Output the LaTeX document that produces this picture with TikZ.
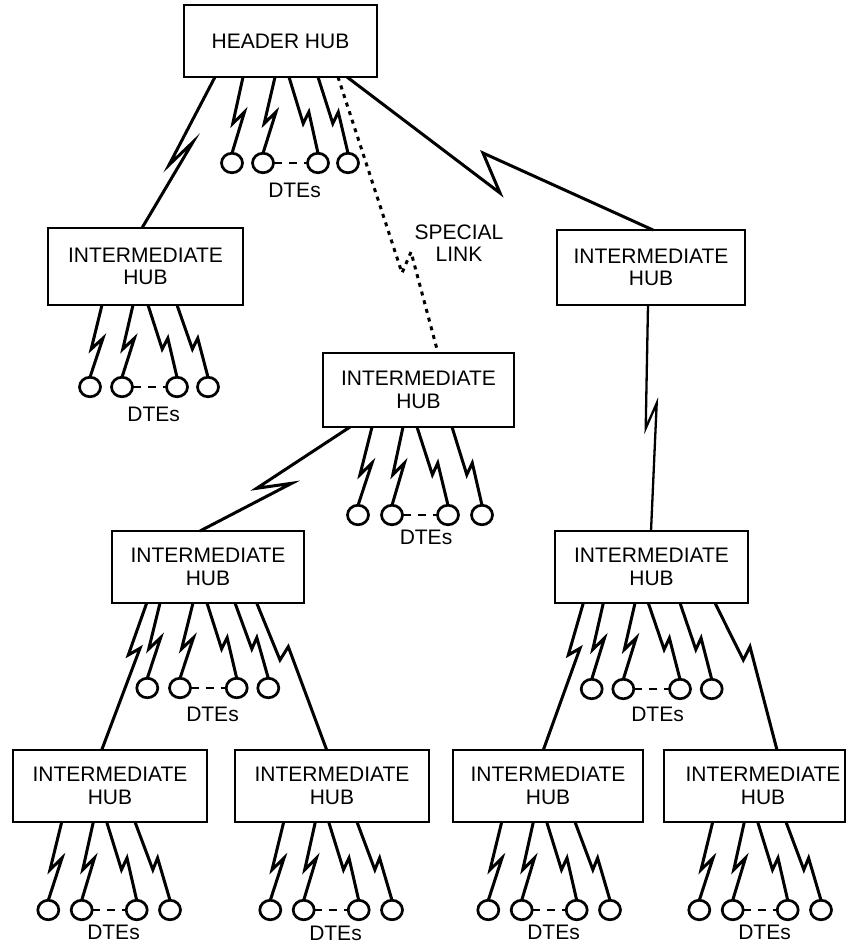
\documentclass[tikz,border=0pt]{standalone}
\usepackage{fontspec}
\setmainfont{Liberation Sans}
\usetikzlibrary{calc,shapes.geometric}
\tikzset{
  hubbox/.style={draw, line width=2.9pt, inner sep=0pt, outer sep=0pt, align=center, font=\fontsize{21}{22.5}\selectfont},
  dte/.style={draw, ellipse, line width=2.7pt, minimum width=21pt, minimum height=19.5pt, inner sep=0pt, outer sep=0pt},
  link/.style={line width=3pt},
  thinlink/.style={line width=2.3pt},
  special/.style={line width=3pt, dash pattern=on 4pt off 5pt},
  dtedash/.style={line width=2.7pt, dash pattern=on 8pt off 7pt},
  lbl/.style={font=\fontsize{21}{22.5}\selectfont, inner sep=0pt, align=center},
}
\newcommand{\grp}[6]{%
  \foreach \c [count=\i] in {#4} {\node[dte] (#2\i) at ($(#1.south west)+(\c,#5)$) {};}
  \foreach \s [count=\i] in {#3} {%
    \coordinate (#2s\i) at ($(#1.south west)+(\s,0)$);
    \draw[link] (#2s\i) -- ($(#2s\i)!0.61!(#2\i.north)+(-3.5,0)$) -- ($(#2s\i)!0.46!(#2\i.north)+(6.5,0)$) -- (#2\i.north);
  }
  \draw[dtedash] (#22.east) -- (#23.west);
  \node[lbl] (#2lab) at ($(#1.south west)+#6$) {DTEs};
}
\begin{document}
\begin{tikzpicture}[x=1pt,y=-1pt]
\useasboundingbox (0,0) rectangle (846,944);
% hubs
\node[hubbox, minimum width=193pt, minimum height=72pt] (hdr) at (280.5,41) {HEADER HUB};
\node[hubbox, minimum width=195pt, minimum height=77pt] (iA) at (145.5,266.5) {INTERMEDIATE\\HUB};
\node[hubbox, minimum width=188pt, minimum height=75pt] (iB) at (651,267.5) {INTERMEDIATE\\HUB};
\node[hubbox, minimum width=191pt, minimum height=74pt] (iC) at (418.5,390) {INTERMEDIATE\\HUB};
\node[hubbox, minimum width=192pt, minimum height=72pt] (iD) at (208,567) {INTERMEDIATE\\HUB};
\node[hubbox, minimum width=193pt, minimum height=72pt] (iE) at (651.5,567) {INTERMEDIATE\\HUB};
\node[hubbox, minimum width=194pt, minimum height=72pt] (iF) at (110,786) {INTERMEDIATE\\HUB};
\node[hubbox, minimum width=194pt, minimum height=72pt] (iG) at (332,786) {INTERMEDIATE\\HUB};
\node[hubbox, minimum width=190pt, minimum height=72pt] (iH) at (548,786) {INTERMEDIATE\\HUB};
\node[hubbox, minimum width=181pt, minimum height=72pt] (iI) at (754.5,786) {};
\node[lbl] (iIt) at (763,786) {INTERMEDIATE\\HUB};
% DTE groups
\grp{hdr}{h}{59,91,105,134}{48,79,134,164}{86}{(110.5,113)}
\grp{iA}{a}{54,85,100,129}{42,74,129,160}{82}{(105.7,109)}
\grp{iC}{b}{49,80,94,129}{35,69,125,159}{88}{(103,110.5)}
\grp{iD}{c}{48,81,95,123}{35.3,68,124.7,156.3}{85}{(100.5,111)}
\grp{iE}{d}{48.3,80,93.3,125}{36.7,68.3,125,156.7}{86}{(102.5,111)}
\grp{iF}{e}{48.7,80.3,93.7,122}{35.3,68.7,123.7,157}{88}{(100.5,110.5)}
\grp{iG}{f}{48.7,80.3,93.7,122}{35.3,68.7,123.7,157}{88}{(100.5,111.5)}
\grp{iH}{g}{48.7,80.3,93.7,122}{35.3,68.7,123.7,157}{88}{(100.5,110.5)}
\grp{iI}{k}{48.7,80.3,93.7,122}{35.3,68.7,123.7,157}{88}{(100.5,110.5)}
% hub-to-hub links
\draw[link] ($(hdr.south west)+(31,0)$) -- (169,165) -- (193,142) -- ($(iA.north west)+(94,0)$);
\draw[link] ($(hdr.south west)+(163,0)$) -- (500,193) -- (483,153) -- ($(iB.north west)+(96,0)$);
\draw[special] ($(hdr.south west)+(154,0)$) -- (402,273) -- (411,252) -- ($(iC.north west)+(115,0)$);
\draw[link] ($(iC.south west)+(27,0)$) -- (256.7,488.3) -- (291.7,483.3) -- ($(iD.north west)+(88,0)$);
\draw[thinlink] ($(iB.south west)+(91,0)$) -- (645.7,428.3) -- (656.7,403.3) -- ($(iE.north west)+(96,0)$);
\draw[link] ($(iD.south west)+(34.7,0)$) -- (128.3,655) -- (140,648.3) -- ($(iF.north west)+(88.7,0)$);
\draw[link] ($(iD.south west)+(144.7,0)$) -- (280,660) -- (288.3,646.7) -- ($(iG.north west)+(91.7,0)$);
\draw[link] ($(iE.south west)+(28.3,0)$) -- (568.3,655) -- (580,648.3) -- ($(iH.north west)+(90.3,0)$);
\draw[link] ($(iE.south west)+(160,0)$) -- (743.3,660) -- (750,646.7) -- ($(iI.north west)+(113,0)$);
\node[lbl] (sl) at (459,243) {SPECIAL\\LINK};
\end{tikzpicture}
\end{document}
